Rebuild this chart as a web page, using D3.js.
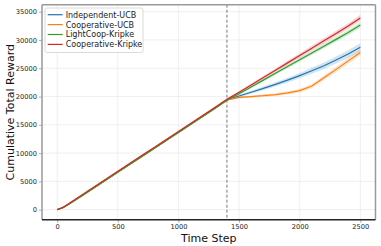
<!DOCTYPE html>
<html>
<head>
<meta charset="utf-8">
<script src="https://cdn.jsdelivr.net/npm/d3@7"></script>
<style>
	body { margin: 0; background: #fff; }
	svg { display: block; font-family: "DejaVu Sans", sans-serif; }
</style>
</head>
<body>
<svg id="chart" width="381" height="246"></svg>
<script>
const steps = [0, 50, 100, 200, 300, 400, 500, 600, 700, 800, 900, 1000, 1100, 1200, 1300, 1400,
	1500, 1600, 1700, 1800, 1900, 2000, 2100, 2200, 2300, 2400, 2500];

const seriesNames = ["Independent-UCB", "Cooperative-UCB", "LightCoop-Kripke", "Cooperative-Kripke"];
const seriesColors = ["#1f77b4", "#ff7f0e", "#2ca02c", "#d62728"];

// mean cumulative reward
const independentUCB = [0, 380, 1050, 2420, 3820, 5230, 6640, 8050, 9460, 10870, 12280, 13690, 15100, 16510, 17920, 19400,
	20100, 20750, 21450, 22150, 22900, 23700, 24550, 25450, 26450, 27500, 28700];
const cooperativeUCB = [0, 380, 1050, 2420, 3820, 5230, 6640, 8050, 9460, 10870, 12280, 13690, 15100, 16510, 17920, 19400,
	19850, 20000, 20150, 20350, 20650, 21050, 21850, 23300, 24800, 26300, 27800];
const lightCoopKripke = [0, 350, 1000, 2380, 3780, 5190, 6600, 8010, 9420, 10830, 12240, 13650, 15060, 16470, 17880, 19350,
	20500, 21700, 22900, 24100, 25300, 26500, 27700, 28900, 30100, 31300, 32650];
const cooperativeKripke = [0, 450, 1150, 2550, 3960, 5370, 6780, 8190, 9600, 11010, 12420, 13830, 15240, 16650, 18060, 19500,
	20750, 22050, 23350, 24650, 25950, 27250, 28550, 29850, 31150, 32450, 33900];

// half width of the shaded band
const independentUCBErr = [0, 20, 30, 40, 50, 60, 70, 80, 90, 100, 110, 120, 130, 140, 150, 160,
	220, 280, 330, 380, 430, 480, 530, 580, 630, 680, 720];
const cooperativeUCBErr = [0, 20, 30, 40, 50, 60, 70, 80, 90, 100, 110, 120, 130, 140, 150, 160,
	180, 200, 220, 250, 280, 320, 380, 430, 480, 520, 560];
const lightCoopKripkeErr = [0, 20, 30, 40, 50, 60, 70, 80, 90, 100, 110, 120, 130, 140, 150, 160,
	200, 230, 260, 290, 320, 350, 380, 410, 440, 470, 500];
const cooperativeKripkeErr = [0, 20, 30, 40, 50, 60, 70, 80, 90, 100, 110, 120, 130, 140, 150, 160,
	200, 240, 280, 320, 360, 400, 430, 460, 490, 520, 550];

const xTicks = [0, 500, 1000, 1500, 2000, 2500];
const yTicks = [0, 5000, 10000, 15000, 20000, 25000, 30000, 35000];
const switchStep = 1400;

const allMeans = [independentUCB, cooperativeUCB, lightCoopKripke, cooperativeKripke];
const allErrs = [independentUCBErr, cooperativeUCBErr, lightCoopKripkeErr, cooperativeKripkeErr];

const svg = d3.select("#chart");
const area = { left: 42, right: 375.5, top: 4.7, bottom: 219.7 };

const scX = d3.scaleLinear().domain([-125, 2625]).range([area.left, area.right]);
const scY = d3.scaleLinear().domain([-1770, 36230]).range([area.bottom, area.top]);

// grid
svg.append("g").selectAll("line").data(xTicks).enter().append("line")
	.attr("x1", d => scX(d)).attr("x2", d => scX(d))
	.attr("y1", area.top).attr("y2", area.bottom)
	.style("stroke", "#ebebeb").style("stroke-width", 0.8);
svg.append("g").selectAll("line").data(yTicks).enter().append("line")
	.attr("x1", area.left).attr("x2", area.right)
	.attr("y1", d => scY(d)).attr("y2", d => scY(d))
	.style("stroke", "#ebebeb").style("stroke-width", 0.8);

// axes
let axisX = d3.axisBottom(scX).tickValues(xTicks).tickSize(3).tickPadding(2).tickFormat(d3.format("d"));
let axisY = d3.axisLeft(scY).tickValues(yTicks).tickSize(3).tickPadding(2).tickFormat(d3.format("d"));
let gx = svg.append("g").attr("transform", `translate(0,${area.bottom})`).call(axisX);
let gy = svg.append("g").attr("transform", `translate(${area.left},0)`).call(axisY);
[gx, gy].forEach(g => {
	g.select(".domain").remove();
	g.selectAll(".tick line").style("stroke", "#999").style("stroke-width", 0.8);
	g.selectAll(".tick text").style("font-size", "6.7px").style("fill", "#222")
		.style("font-family", "DejaVu Sans, sans-serif");
});

// bands and lines
const bandF = (m, e) => d3.area()
	.x((d, i) => scX(steps[i]))
	.y0((d, i) => scY(m[i] - e[i]))
	.y1((d, i) => scY(m[i] + e[i]));
const lineF = m => d3.line().x((d, i) => scX(steps[i])).y((d, i) => scY(m[i]));

allMeans.forEach((m, k) => {
	svg.append("path").datum(m)
		.attr("d", bandF(m, allErrs[k]))
		.style("fill", seriesColors[k]).style("fill-opacity", 0.2).style("stroke", "none");
});
allMeans.forEach((m, k) => {
	svg.append("path").datum(m)
		.attr("d", lineF(m))
		.style("fill", "none").style("stroke", seriesColors[k]).style("stroke-width", 1.2);
});

// switch line
svg.append("line")
	.attr("x1", scX(switchStep)).attr("x2", scX(switchStep))
	.attr("y1", area.top).attr("y2", area.bottom)
	.style("stroke", "#777").style("stroke-width", 1).style("stroke-dasharray", "3,2");

// spines
svg.append("line").attr("x1", area.left).attr("x2", area.right).attr("y1", area.top).attr("y2", area.top)
	.style("stroke", "#999").style("stroke-width", 1.5);
svg.append("line").attr("x1", area.right).attr("x2", area.right).attr("y1", area.top).attr("y2", area.bottom)
	.style("stroke", "#999").style("stroke-width", 1.5);
svg.append("line").attr("x1", area.left).attr("x2", area.left).attr("y1", area.top).attr("y2", area.bottom)
	.style("stroke", "#999").style("stroke-width", 1.5);
svg.append("line").attr("x1", area.left).attr("x2", area.right).attr("y1", area.bottom).attr("y2", area.bottom)
	.style("stroke", "#222").style("stroke-width", 1.5);

// axis labels
svg.append("text").attr("x", (area.left + area.right) / 2).attr("y", 242)
	.attr("text-anchor", "middle").style("font-size", "11px").style("fill", "#111")
	.text("Time Step");
svg.append("text").attr("transform", `translate(13.5,${(area.top + area.bottom) / 2}) rotate(-90)`)
	.attr("text-anchor", "middle").style("font-size", "11px").style("fill", "#111")
	.text("Cumulative Total Reward");

// legend
let legend = svg.append("g");
legend.append("rect").attr("x", 45).attr("y", 8).attr("width", 98).attr("height", 44.5)
	.attr("rx", 2).style("fill", "#fff").style("fill-opacity", 0.85)
	.style("stroke", "#d0d0d0").style("stroke-width", 0.8);
seriesNames.forEach((name, k) => {
	let y = 14.7 + k * 9.9;
	legend.append("line").attr("x1", 47.7).attr("x2", 62.7).attr("y1", y).attr("y2", y)
		.style("stroke", seriesColors[k]).style("stroke-width", 1.2);
	legend.append("text").attr("x", 65.7).attr("y", y + 2.9)
		.style("font-size", "8px").style("fill", "#222").text(name);
});
</script>
</body>
</html>
